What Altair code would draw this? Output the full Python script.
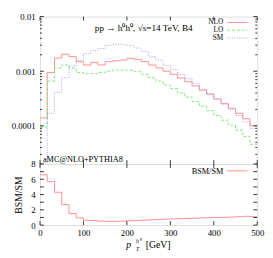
import altair as alt
import pandas as pd

# ---------------- data ----------------
N_BINS = 30
PT_MAX = 500
edges = [PT_MAX * i / N_BINS for i in range(N_BINS + 1)]

nlo = [1.4e-4, 9.5e-4, 1.75e-3, 2.05e-3, 1.85e-3, 1.5e-3, 1.3e-3, 1.45e-3, 1.3e-3, 1.5e-3,
       1.55e-3, 1.6e-3, 1.72e-3, 1.65e-3, 1.5e-3, 1.3e-3, 1.15e-3, 1.0e-3, 8.8e-4, 7.5e-4,
       6.4e-4, 5.4e-4, 4.5e-4, 3.8e-4, 3.1e-4, 2.55e-4, 2.1e-4, 1.7e-4, 1.35e-4, 1.0e-4]
lo = [9.5e-5, 6.6e-4, 1.15e-3, 1.3e-3, 1.15e-3, 9.5e-4, 9.0e-4, 9.0e-4, 9.5e-4, 1.0e-3,
      1.05e-3, 1.05e-3, 1.04e-3, 9.8e-4, 8.8e-4, 7.6e-4, 6.6e-4, 5.6e-4, 4.8e-4, 4.0e-4,
      3.35e-4, 2.8e-4, 2.3e-4, 1.9e-4, 1.55e-4, 1.27e-4, 1.03e-4, 8.3e-5, 6.4e-5, 4.6e-5]
sm = [2.1e-5, 1.7e-4, 4.1e-4, 7.6e-4, 1.25e-3, 1.6e-3, 2.1e-3, 2.4e-3, 2.6e-3, 3.0e-3,
      3.1e-3, 3.1e-3, 2.95e-3, 2.65e-3, 2.3e-3, 1.85e-3, 1.6e-3, 1.28e-3, 1.07e-3, 8.8e-4,
      7.3e-4, 6.0e-4, 4.7e-4, 3.9e-4, 3.1e-4, 2.5e-4, 2.0e-4, 1.55e-4, 1.18e-4, 9.0e-5]
bsm_sm = [6.6, 5.7, 4.3, 2.7, 1.5, 0.95, 0.62, 0.6, 0.52, 0.5,
          0.5, 0.52, 0.58, 0.62, 0.65, 0.7, 0.72, 0.78, 0.82, 0.85,
          0.88, 0.9, 0.95, 0.97, 1.0, 1.02, 1.05, 1.1, 1.15, 1.1]

series_labels = ["NLO", "LO", "SM"]
ratio_label = "BSM/SM"
title_text = "pp \u2192 h\u2070h\u2070, \u221as=14 TeV, B4"
generator_text = "aMC@NLO+PYTHIA8"
y_top_major = [1e-4, 1e-3, 1e-2]
y_top_minor = [k * 10.0 ** e for e in (-5, -4, -3) for k in range(2, 10)]
y_bot_major = [0, 1, 2, 3, 4, 5, 6, 7, 8]
x_major = [0, 100, 200, 300, 400, 500]

# ---------------- style ----------------
RED = "#ff8f8f"
GREEN = "#80e880"
BLUE = "#a0a0ff"
FRAME = "#333333"
FONT = "Liberation Serif"
W = 224
H_TOP = 152
H_BOT = 63
MAJ = 4
MIN = 2

x_scale = alt.Scale(domain=[0, PT_MAX], nice=False, zero=False)
y_top_scale = alt.Scale(type="log", domain=[2e-5, 1e-2], nice=False)
y_bot_scale = alt.Scale(domain=[0, 8], nice=False, zero=False)

y_top_axis = alt.Axis(values=y_top_major, format=".4~f", title=None, ticks=False,
                      domain=False, grid=False, labelPadding=5, labelFontSize=9,
                      labelFont=FONT, labelColor="black")
y_bot_axis = alt.Axis(values=y_bot_major, format="d", title=ratio_label, ticks=False,
                      domain=False, grid=False, labelPadding=5, labelFontSize=9,
                      labelFont=FONT, labelColor="black", titleFont=FONT,
                      titleFontSize=10, titleFontWeight="normal", titlePadding=8,
                      titleColor="black")
x_bot_axis = alt.Axis(values=x_major, format="d", title=None, ticks=False, domain=False,
                      grid=False, labelPadding=4, labelFontSize=9, labelFont=FONT,
                      labelColor="black", labelFlush=False)


def steps(vals):
    return pd.DataFrame({"x": edges, "y": list(vals) + [vals[-1]]})


def hist_line(vals, color, yscale, yaxis, xaxis, dash=None):
    kw = dict(interpolate="step-after", color=color, strokeWidth=1, clip=True)
    if dash:
        kw["strokeDash"] = dash
    return alt.Chart(steps(vals)).mark_line(**kw).encode(
        x=alt.X("x:Q", scale=x_scale, axis=xaxis),
        y=alt.Y("y:Q", scale=yscale, axis=yaxis),
    )


def y_ticks(values, length, yscale, yaxis, xaxis, right=False):
    df = pd.DataFrame({"y": values})
    x0 = W if right else 0
    x1 = W - length if right else length
    return alt.Chart(df).mark_rule(color=FRAME, strokeWidth=1).encode(
        y=alt.Y("y:Q", scale=yscale, axis=yaxis),
        x=alt.value(x0), x2=alt.value(x1),
    )


def x_ticks(values, length, height, xaxis, top=False):
    df = pd.DataFrame({"x": values})
    y0 = 0 if top else height
    y1 = length if top else height - length
    return alt.Chart(df).mark_rule(color=FRAME, strokeWidth=1).encode(
        x=alt.X("x:Q", scale=x_scale, axis=xaxis),
        y=alt.value(y0), y2=alt.value(y1),
    )


def label(text, x, y, size=9, align="left", baseline="middle", style="normal"):
    return alt.Chart(pd.DataFrame({"t": [text]})).mark_text(
        font=FONT, fontSize=size, align=align, baseline=baseline, color="black",
        fontStyle=style,
    ).encode(x=alt.value(x), y=alt.value(y), text="t:N")


def key_line(color, y, dash=None):
    kw = dict(color=color, strokeWidth=1)
    if dash:
        kw["strokeDash"] = dash
    return alt.Chart(pd.DataFrame({"k": [0]})).mark_rule(**kw).encode(
        x=alt.value(193), x2=alt.value(214), y=alt.value(y)
    )


colors = [RED, GREEN, BLUE]
dashes = [None, [3, 2], [1, 1.5]]

# ---------------- top panel ----------------
top_layers = [
    hist_line(nlo, RED, y_top_scale, y_top_axis, None),
    hist_line(lo, GREEN, y_top_scale, y_top_axis, None, [3, 2]),
    hist_line(sm, BLUE, y_top_scale, y_top_axis, None, [1, 1.5]),
    y_ticks(y_top_major, MAJ, y_top_scale, y_top_axis, None),
    y_ticks(y_top_minor, MIN, y_top_scale, y_top_axis, None),
    y_ticks(y_top_major, MAJ, y_top_scale, y_top_axis, None, right=True),
    y_ticks(y_top_minor, MIN, y_top_scale, y_top_axis, None, right=True),
    x_ticks(x_major, MAJ, H_TOP, None, top=True),
    x_ticks(x_major, MAJ, H_TOP, None, top=False),
    label(title_text, 107, 12, size=9.5, align="center"),
    label(generator_text, 3, H_TOP - 2, size=8.5, baseline="alphabetic"),
]
for i, name in enumerate(series_labels):
    yy = 6 + 8 * i
    top_layers.append(label(name, 189, yy, size=7.5, align="right"))
    top_layers.append(key_line(colors[i], yy, dashes[i]))

top = alt.layer(*top_layers).properties(width=W, height=H_TOP)

# ---------------- bottom panel ----------------
bot_layers = [
    hist_line(bsm_sm, RED, y_bot_scale, y_bot_axis, x_bot_axis),
    y_ticks(y_bot_major, MAJ, y_bot_scale, y_bot_axis, x_bot_axis),
    y_ticks(y_bot_major, MAJ, y_bot_scale, y_bot_axis, x_bot_axis, right=True),
    x_ticks(x_major, MAJ, H_BOT, x_bot_axis, top=True),
    x_ticks(x_major, MAJ, H_BOT, x_bot_axis, top=False),
    label(ratio_label, 189, 7, size=8.5, align="right"),
    key_line(RED, 7),
    # axis title p_T^{h0} [GeV]
    label("p", 89, H_BOT + 24, size=10, baseline="alphabetic", style="italic"),
    label("T", 99, H_BOT + 27, size=6, baseline="alphabetic", style="italic"),
    label("h\u2070", 99, H_BOT + 18, size=6, baseline="alphabetic", style="italic"),
    label("[GeV]", 109, H_BOT + 24, size=10, baseline="alphabetic"),
]
bottom = alt.layer(*bot_layers).properties(width=W, height=H_BOT)

chart = alt.vconcat(top, bottom, spacing=0, bounds="flush").properties(
    padding={"left": 2, "top": 0, "right": 0, "bottom": 0}
).configure_view(stroke=FRAME, strokeWidth=1).configure(background="white")

chart.save("out.html", embed_options={"renderer": "svg", "actions": False})
